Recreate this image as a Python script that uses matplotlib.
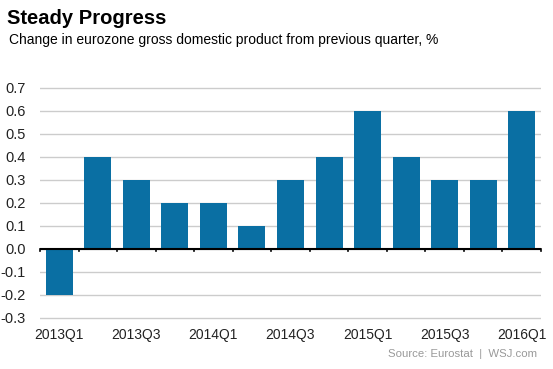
import matplotlib
matplotlib.use("Agg")
import matplotlib.pyplot as plt

plt.rcParams['font.family'] = ['Liberation Sans', 'DejaVu Sans']

quarters = ["2013Q1", "2013Q2", "2013Q3", "2013Q4", "2014Q1", "2014Q2", "2014Q3",
            "2014Q4", "2015Q1", "2015Q2", "2015Q3", "2015Q4", "2016Q1"]
gdp_change = [-0.2, 0.4, 0.3, 0.2, 0.2, 0.1, 0.3, 0.4, 0.6, 0.4, 0.3, 0.3, 0.6]
y_ticks = [-0.3, -0.2, -0.1, 0.0, 0.1, 0.2, 0.3, 0.4, 0.5, 0.6, 0.7]

W, H = 553, 369
fig = plt.figure(figsize=(W / 100, H / 100), dpi=100)
ax = fig.add_axes([40 / W, 1 - 320 / H, (541 - 40) / W, (320 - 83) / H])

x = list(range(len(quarters)))
ax.bar(x, gdp_change, width=0.7, color='#0a6fa3', zorder=2)

ax.set_xlim(-0.5, len(quarters) - 0.5)
ax.set_ylim(-0.31, 0.72)
ax.set_yticks(y_ticks)
ax.set_yticklabels([f"{v:.1f}" for v in y_ticks], fontsize=10.5, color='#222222')
ax.yaxis.grid(True, color='#cccccc', linewidth=1, zorder=0)
ax.tick_params(axis='y', length=0, pad=10)

ax.set_xticks(x[::2])
ax.set_xticklabels(quarters[::2], fontsize=10, color='#222222')
ax.tick_params(axis='x', length=0, pad=6)

for s in ax.spines.values():
    s.set_visible(False)

# zero line with boundary ticks
ax.axhline(0, color='black', linewidth=1.5, zorder=3)
for b in range(len(quarters) + 1):
    ax.plot([b - 0.5, b - 0.5], [0, -0.012], color='black', linewidth=1.2, zorder=3,
            clip_on=False)

fig.text(7 / W, 1 - 18 / H, "Steady Progress", fontsize=14.5, fontweight='bold',
         va='center', ha='left', color='black')
fig.text(9 / W, 1 - 40 / H, "Change in eurozone gross domestic product from previous quarter, %",
         fontsize=10, va='center', ha='left', color='black')
fig.text(537 / W, 1 - 354 / H, "Source: Eurostat  |  WSJ.com", fontsize=8.2,
         va='center', ha='right', color='#999999')

fig.savefig("out.png", dpi=100)
